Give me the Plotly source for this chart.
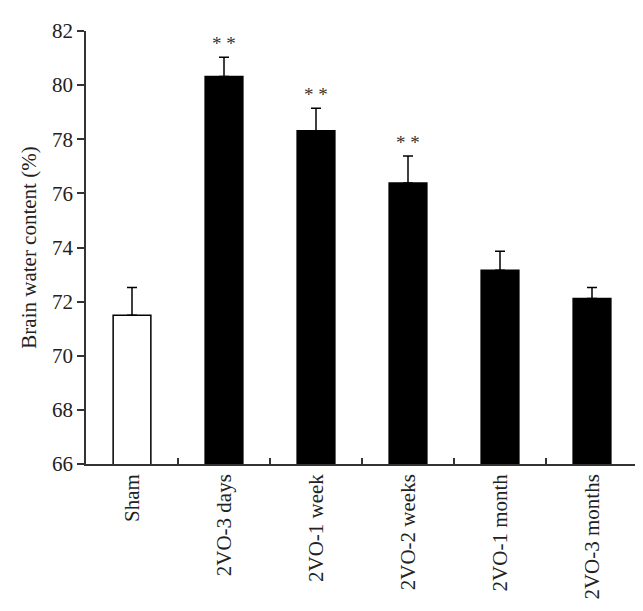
import plotly.graph_objects as go

categories = ["Sham", "2VO-3 days", "2VO-1 week", "2VO-2 weeks", "2VO-1 month", "2VO-3 months"]
values = [71.5, 80.32, 78.31, 76.38, 73.16, 72.12]
errors = [1.02, 0.71, 0.84, 1.0, 0.7, 0.4]
significance = ["", "**", "**", "**", "", ""]
fills = ["white", "black", "black", "black", "black", "black"]

FONT = "Liberation Serif, Times New Roman, serif"

fig = go.Figure()
fig.add_trace(go.Bar(
    x=categories, y=values,
    base=0,
    marker=dict(color=fills, line=dict(color="black", width=1.5)),
    width=0.41,
    error_y=dict(type="data", array=errors, arrayminus=[0]*len(errors),
                 symmetric=False, color="black", thickness=1.5, width=5),
))

for c, v, e, s in zip(categories, values, errors, significance):
    if s:
        fig.add_annotation(x=c, y=v + e, text="* *", showarrow=False,
                           yanchor="middle", yshift=14,
                           font=dict(family=FONT, size=19, color="#333"))

fig.update_layout(
    width=643, height=611,
    margin=dict(l=78, r=13, t=23, b=155),
    paper_bgcolor="white", plot_bgcolor="white",
    showlegend=False,
    font=dict(family=FONT, size=21, color="#222"),
)
fig.update_xaxes(
    type="category", tickangle=-90, showline=True, linecolor="#333", linewidth=1.5,
    ticks="inside", tickson="boundaries", ticklen=6, tickcolor="#333", tickwidth=1.5,
    showgrid=False, range=[-0.5, 5.5],
)
fig.update_yaxes(
    range=[66, 82], dtick=2, tick0=66, showline=True, linecolor="#333", linewidth=1.5,
    ticks="outside", ticklen=7, tickcolor="#333", tickwidth=1.5, showgrid=False,
    zeroline=False,
    title=dict(text="Brain water content (%)", standoff=10,
               font=dict(family=FONT, size=21, color="#222")),
)

fig.write_html("out.html")
